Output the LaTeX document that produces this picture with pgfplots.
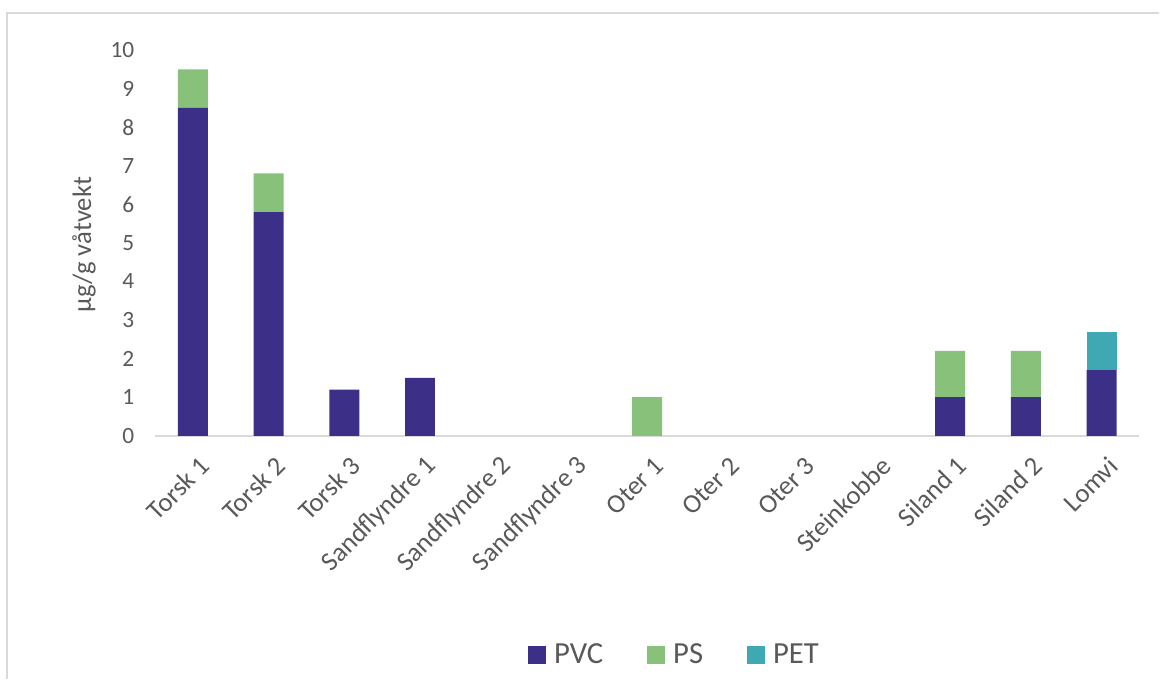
\documentclass[border=0pt]{standalone}
\usepackage{pgfplots}
\pgfplotsset{compat=1.18}
\usepackage{fontspec}
\setmainfont{Carlito}
\definecolor{pvc}{HTML}{3C2F87}
\definecolor{ps}{HTML}{87C17A}
\definecolor{pet}{HTML}{3EA8B3}
\definecolor{txt}{HTML}{595959}
\definecolor{frame}{HTML}{D9D9D9}
\begin{document}
\begin{tikzpicture}
\path (0,0) rectangle (870pt,509.25pt);
\draw[frame, line width=0.8pt] (5.25pt,0) -- (5.25pt,499.5pt) -- (870pt,499.5pt);
\begin{axis}[
  at={(116.25pt,182.25pt)}, anchor=south west,
  scale only axis, width=738.75pt, height=289.5pt,
  ybar stacked, bar width=22.5pt,
  xmin=-0.5, xmax=12.5, ymin=0, ymax=10,
  ytick={0,1,...,10},
  xtick={0,...,12},
  xticklabels={Torsk 1,Torsk 2,Torsk 3,Sandflyndre 1,Sandflyndre 2,Sandflyndre 3,Oter 1,Oter 2,Oter 3,Steinkobbe,Siland 1,Siland 2,Lomvi},
  /pgf/number format/assume math mode=true,
  axis lines*=left,
  y axis line style={draw=none},
  x axis line style={draw=frame, line width=1.2pt, -},
  major tick length=0pt,
  yticklabel style={font=\fontsize{17.5}{19}\selectfont, text=txt, xshift=-12pt},
  xticklabel style={font=\fontsize{20}{22}\selectfont, text=txt, rotate=45, anchor=east, xshift=-4pt, yshift=-20pt},
  every axis y label/.style={at={(axis description cs:-0.072,0.495)}, rotate=90, anchor=center},
  ylabel={µg/g våtvekt},
  ylabel style={font=\fontsize{20}{22}\selectfont, text=txt},
  legend columns=3,
  legend style={at={(0.528,-0.567)}, anchor=center, draw=none, fill=none,
    font=\fontsize{23}{25}\selectfont, text=txt,
    /tikz/every odd column/.append style={column sep=4pt},
    /tikz/every even column/.append style={column sep=31pt}},
  legend image code/.code={\fill[#1] (0pt,-6.75pt) rectangle (13.5pt,6.75pt);},
]
\addplot[fill=pvc, draw=none] coordinates {(0,8.5) (1,5.8) (2,1.2) (3,1.5) (4,0) (5,0) (6,0) (7,0) (8,0) (9,0) (10,1.0) (11,1.0) (12,1.7)};
\addplot[fill=ps, draw=none] coordinates {(0,1.0) (1,1.0) (2,0) (3,0) (4,0) (5,0) (6,1.0) (7,0) (8,0) (9,0) (10,1.2) (11,1.2) (12,0)};
\addplot[fill=pet, draw=none] coordinates {(0,0) (1,0) (2,0) (3,0) (4,0) (5,0) (6,0) (7,0) (8,0) (9,0) (10,0) (11,0) (12,1.0)};
\legend{PVC,PS,PET}
\end{axis}
\end{tikzpicture}
\end{document}
